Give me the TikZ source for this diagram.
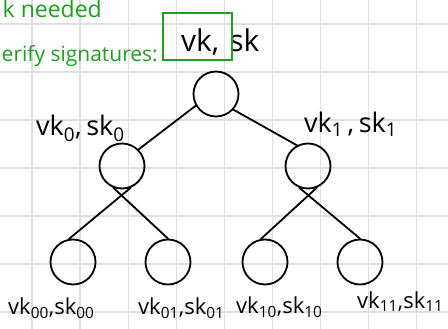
\documentclass[tikz,border=0pt]{standalone}
\usepackage{fontspec}
\setmainfont{Open Sans}
\definecolor{gridgray}{RGB}{222,222,222}
\definecolor{pengreen}{RGB}{30,160,30}
\begin{document}
\begin{tikzpicture}[x=1pt,y=-1pt,
  keynode/.style={circle,draw=black,line width=1.8pt,minimum size=45pt,inner sep=0pt},
  edge/.style={draw=black,line width=1.8pt,line cap=round},
  lbl/.style={inner sep=0pt,font=\fontsize{27}{30}\selectfont},
  rootlbl/.style={inner sep=0pt,font=\fontsize{30}{34}\selectfont},
  leaflbl/.style={inner sep=0pt,font=\fontsize{22}{24}\selectfont},
  note/.style={inner sep=0pt,text=pengreen,font=\fontsize{23}{26}\selectfont},
  note2/.style={note,font=\fontsize{21}{24}\selectfont}]
\useasboundingbox (0,0) rectangle (448,329);
\clip (0,0) rectangle (448,329);
\fill[white] (0,0) rectangle (448,329);
% grid
\foreach \i in {0,...,8} {\draw[gridgray,line width=1.3pt] ({32+48.1*\i},0) -- ({32+48.1*\i},329);}
\foreach \j in {0,...,6} {\draw[gridgray,line width=1.3pt] (0,{24+48*\j}) -- (448,{24+48*\j});}
% nodes
\node[keynode] (r) at (216,94) {};
\node[keynode] (n0) at (122,166) {};
\node[keynode] (n1) at (308,166) {};
\node[keynode] (n00) at (73,262) {};
\node[keynode] (n01) at (168,262) {};
\node[keynode] (n10) at (265,262) {};
\node[keynode] (n11) at (360,262) {};
% edges
\draw[edge] (r.210) -- (n0.45);
\draw[edge] (r.-42) -- (n1.118);
\draw[edge] (n0.-68) -- (n00.100);
\draw[edge] (n0.-112) -- (n01.90);
\draw[edge] (n1.-68) -- (n10.100);
\draw[edge] (n1.-112) -- (n11.90);
% labels
\node[rootlbl,anchor=base west] (lr) at (181,52) {vk,\kern10pt sk};
\node[lbl,anchor=base west] (l0) at (36,136) {vk\textsubscript{0},\,sk\textsubscript{0}};
\node[lbl,anchor=base west] (l1) at (304,132) {vk\textsubscript{1}\,,\,sk\textsubscript{1}};
\node[leaflbl,anchor=base west] (l00) at (8,314) {vk\textsubscript{00},sk\textsubscript{00}};
\node[leaflbl,anchor=base west] (l01) at (138,314) {vk\textsubscript{01},sk\textsubscript{01}};
\node[leaflbl,anchor=base west] (l10) at (236,313) {vk\textsubscript{10},sk\textsubscript{10}};
\node[leaflbl,anchor=base west] (l11) at (357,308) {vk\textsubscript{11},sk\textsubscript{11}};
% green notes
\node[note,anchor=base east] (t1) at (102,18) {k needed};
\node[note2,anchor=base east] (t2) at (158,62) {erify signatures:};
\draw[pengreen,line width=1.6pt] (163,13) rectangle (232,60);
\end{tikzpicture}
\end{document}
